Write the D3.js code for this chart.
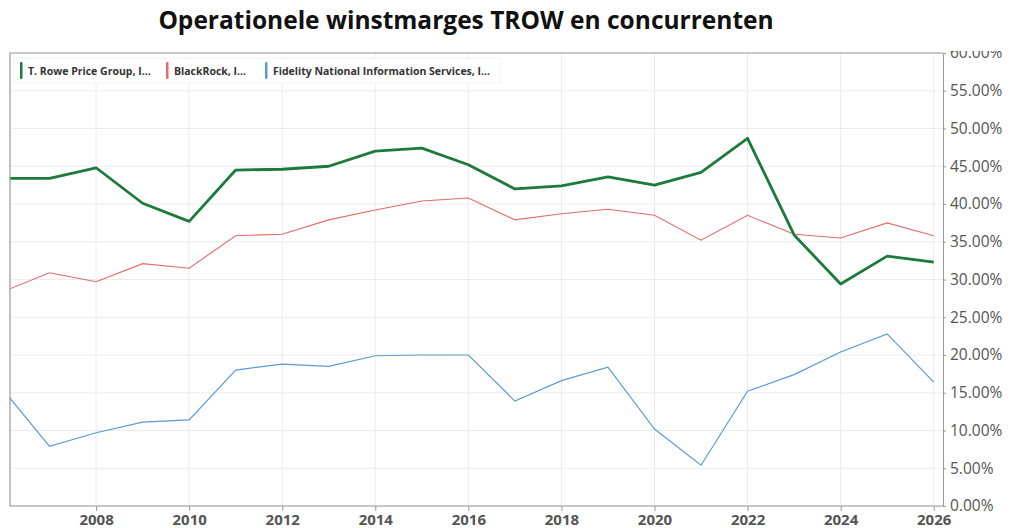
<!DOCTYPE html>
<html lang="nl">
  <head>
    <meta charset="UTF-8" />
    <title>Operationele winstmarges</title>
    <script src="https://d3js.org/d3.v7.min.js"></script>
    <style>
      body { margin: 0; background: #fff; }
      svg text { font-family: "Open Sans", "DejaVu Sans", sans-serif; }
    </style>
  </head>
  <body></body>
  <script type="text/javascript">
    var width = 1010,
      height = 528;

    // jaren en reeksen (operationele marge in %)
    var years = [2006, 2007, 2008, 2009, 2010, 2011, 2012, 2013, 2014, 2015, 2016,
      2017, 2018, 2019, 2020, 2021, 2022, 2023, 2024, 2025, 2026];
    var trow = [43.4, 43.4, 44.8, 40.1, 37.7, 44.5, 44.6, 45.0, 47.0, 47.4, 45.2,
      42.0, 42.4, 43.6, 42.5, 44.2, 48.7, 35.9, 29.4, 33.1, 32.3];
    var blk = [28.4, 30.9, 29.7, 32.1, 31.5, 35.8, 36.0, 37.9, 39.2, 40.4, 40.8,
      37.9, 38.7, 39.3, 38.5, 35.2, 38.5, 36.0, 35.5, 37.5, 35.8];
    var fis = [15.4, 7.9, 9.7, 11.1, 11.4, 18.0, 18.8, 18.5, 19.9, 20.0, 20.0,
      13.9, 16.6, 18.4, 10.2, 5.4, 15.2, 17.4, 20.4, 22.8, 16.4];
    var names = ['T. Rowe Price Group, I...', 'BlackRock, I...', 'Fidelity National Information Services, I...'];
    var colors = ['#1b7a3c', '#e36b6b', '#5b9bd5'];
    var xTicks = [2008, 2010, 2012, 2014, 2016, 2018, 2020, 2022, 2024, 2026];
    var yTicks = [0, 5, 10, 15, 20, 25, 30, 35, 40, 45, 50, 55, 60];

    // let "top" niet botsen met window.top
    var pLeft = 10, pRight = 943, pTop = 53, pBottom = 506;

    var x = d3.scaleLinear().domain([2006.15, 2026.2]).range([pLeft, pRight]);
    var y = d3.scaleLinear().domain([0, 60]).range([pBottom, pTop]);

    var svg = d3.select('body').append('svg')
      .attr('width', width)
      .attr('height', height);

    svg.append('clipPath').attr('id', 'plot')
      .append('rect')
      .attr('x', pLeft).attr('y', pTop)
      .attr('width', pRight - pLeft).attr('height', pBottom - pTop);

    // raster
    svg.append('g')
      .selectAll('line')
      .data(xTicks)
      .join('line')
      .attr('x1', d => x(d)).attr('x2', d => x(d))
      .attr('y1', pTop).attr('y2', pBottom)
      .attr('stroke', '#ececec');
    svg.append('g')
      .selectAll('line')
      .data(yTicks)
      .join('line')
      .attr('x1', pLeft).attr('x2', pRight)
      .attr('y1', d => y(d)).attr('y2', d => y(d))
      .attr('stroke', '#ececec');

    // lijnen
    var line = d3.line()
      .x((d, i) => x(years[i]))
      .y(d => y(d));

    var g = svg.append('g').attr('clip-path', 'url(#plot)');
    g.append('path').datum(fis).attr('d', line)
      .attr('fill', 'none').attr('stroke', colors[2]).attr('stroke-width', 1.2);
    g.append('path').datum(blk).attr('d', line)
      .attr('fill', 'none').attr('stroke', colors[1]).attr('stroke-width', 1.1);
    g.append('path').datum(trow).attr('d', line)
      .attr('fill', 'none').attr('stroke', colors[0]).attr('stroke-width', 2.8)
      .attr('stroke-linejoin', 'round');

    // kader
    svg.append('path')
      .attr('d', `M${pRight},${pTop} H${pLeft} V${pBottom} H${pRight}`)
      .attr('fill', 'none').attr('stroke', '#9a9a9a').attr('stroke-width', 1.2);

    // assen
    var yAxis = d3.axisRight(y)
      .tickValues(yTicks)
      .tickSize(3)
      .tickFormat(d => d3.format('.2f')(d) + '%');
    var ya = svg.append('g')
      .attr('transform', `translate(${pRight},0)`)
      .call(yAxis);
    ya.select('.domain').attr('stroke', '#9a9a9a');
    ya.selectAll('.tick line').attr('stroke', '#9a9a9a');
    ya.selectAll('.tick text')
      .attr('x', 7)
      .attr('fill', '#555')
      .style('font-size', '15.5px');

    var xAxis = d3.axisBottom(x)
      .tickValues(xTicks)
      .tickSize(5)
      .tickFormat(d3.format('d'));
    var xa = svg.append('g')
      .attr('transform', `translate(0,${pBottom})`)
      .call(xAxis);
    xa.select('.domain').remove();
    xa.selectAll('.tick line').attr('stroke', '#9a9a9a');
    xa.selectAll('.tick text')
      .attr('y', 8)
      .attr('fill', '#555')
      .style('font-size', '15px')
      .style('font-weight', 'bold');

    // bovenkant afdekken (label 60% valt half weg)
    svg.append('rect')
      .attr('x', pRight + 1).attr('y', 0)
      .attr('width', width - pRight).attr('height', 51)
      .attr('fill', '#fff');

    // titel
    svg.append('text')
      .attr('x', 466).attr('y', 29)
      .attr('text-anchor', 'middle')
      .style('font-size', '24.5px')
      .style('font-weight', 'bold')
      .attr('fill', '#111')
      .text('Operationele winstmarges TROW en concurrenten');

    // legenda
    var legend = svg.append('g').attr('transform', 'translate(14,58)');
    legend.append('rect')
      .attr('width', 486).attr('height', 25)
      .attr('fill', '#fff').attr('stroke', '#f2f2f2');
    var offs = [6, 152, 251];
    var items = legend.selectAll('g.item')
      .data(names)
      .join('g')
      .attr('class', 'item')
      .attr('transform', (d, i) => `translate(${offs[i]},0)`);
    items.append('rect')
      .attr('x', 0).attr('y', 4)
      .attr('width', 2.5).attr('height', 17)
      .attr('rx', 1)
      .attr('fill', (d, i) => colors[i]);
    items.append('text')
      .attr('x', 8).attr('y', 16.5)
      .attr('fill', '#333')
      .style('font-size', '10.5px')
      .style('font-weight', '700')
      .text(d => d);
  </script>
</html>
